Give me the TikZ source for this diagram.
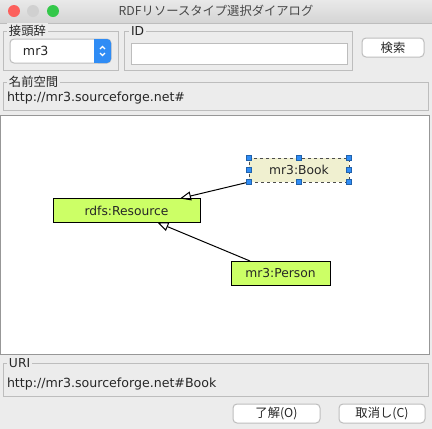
\documentclass[tikz,border=0pt]{standalone}
\usepackage{fontspec}
\setmainfont{DejaVu Sans}
\newfontfamily\jpfont{Noto Sans CJK JP}
\newcommand*{\uifont}{\fontsize{12.3}{14}\selectfont}
\newcommand*{\fieldfont}{\fontsize{12.6}{14}\selectfont}
\definecolor{winbg}{HTML}{ECECEC}
\definecolor{barTop}{HTML}{E9E9E9}
\definecolor{barBot}{HTML}{D4D4D4}
\definecolor{frame}{HTML}{BDBDBD}
\definecolor{ink}{HTML}{262626}
\definecolor{lime}{HTML}{CCFF66}
\definecolor{beige}{HTML}{F0F0D0}
\definecolor{handleblue}{HTML}{2F8CF5}
\definecolor{lightred}{HTML}{FC605C}
\definecolor{lightgrey}{HTML}{D0D0D0}
\definecolor{lightgreen}{HTML}{34C84A}
\usepackage{tikz}
\usetikzlibrary{arrows.meta}
\usetikzlibrary{positioning}
\tikzstyle{base}=[x=1pt, y=-1pt, inner sep=0pt, outer sep=0pt, line width=1pt]
\tikzstyle{grp}=[draw=frame]
\tikzstyle{grptitle}=[fill=winbg, text=ink, inner sep=2pt, anchor=west, font=\uifont\jpfont]
\tikzstyle{button}=[draw=frame, fill=white, rounded corners=4pt]
\tikzstyle{cls}=[draw=black, fill=lime, text=ink, font=\uifont, minimum height=24pt]
\tikzstyle{handle}=[draw=handleblue!70!black, line width=0.4pt, fill=handleblue, minimum size=5pt]
\tikzstyle{subclass}=[draw=black, -{Triangle[open, length=11pt, width=9pt]}]

\begin{document}
\begin{tikzpicture}[base]
    \uifont
        \path [use as bounding box, fill=winbg] (0,0) rectangle (432,429);
        \shade [top color=barTop, bottom color=barBot] (0,0) rectangle (432,23);
        \draw [frame] (0,23) -- (432,23);
        \fill [lightred] (14,11) circle (6);
        \fill [lightgrey] (33,11) circle (6);
        \fill [lightgreen] (53,11) circle (6);
        \node [text=ink!85, font=\uifont\jpfont] (title) at (216,11) {RDFリソースタイプ選択ダイアログ};

        \draw [grp] (3,31) rectangle (118,70);
        \node [grptitle] (prefix) at (7,31) {接頭辞};
        \draw [button] (10,39) rectangle (111,63);
        \fill [handleblue, rounded corners=4pt] (94,39) rectangle (111,63);
        \fill [handleblue] (94,39) rectangle (100,63);
        \draw [white, line width=1.2pt] (100,49) -- (102.5,46.5) -- (105,49);
        \draw [white, line width=1.2pt] (100,53) -- (102.5,55.5) -- (105,53);
        \node [anchor=west, text=ink, font=\fieldfont] (prefixval) at (23,51) {mr3};

        \draw [grp] (124,31) rectangle (352,70);
        \node [grptitle, font=\uifont] (id) at (129,31) {ID};
        \draw [frame, fill=white] (131,43) rectangle (347,64);

        \draw [button] (362,38) rectangle (424,57);
        \node [text=ink, font=\uifont\jpfont] (search) at (393,47.5) {検索};

        \draw [grp] (3,82) rectangle (428,110);
        \node [grptitle] (ns) at (7,82) {名前空間};
        \node [anchor=west, text=ink, font=\fieldfont] (nsval) at (7,98) {http://mr3.sourceforge.net\#};

        \draw [draw=frame!80!black, fill=white] (0.5,115) rectangle (429.5,354);
        \node [cls, minimum width=147pt] (res) at (126.5,210.5) {rdfs:Resource};
        \node [cls, fill=beige, dashed, draw=black!70, minimum width=100pt] (book) at (299,170) {mr3:Book};
        \node [cls, minimum width=99pt] (person) at (280.5,273) {mr3:Person};
        \coordinate (resTop) at ([xshift=-20pt]res.north east);
        \coordinate (resBot) at ([xshift=31pt]res.south);
        \coordinate (personTop) at ([xshift=-30.5pt]person.north);
        \draw [subclass] (book.south west) -- (resTop);
        \draw [subclass] (personTop) -- (resBot);
        \foreach \a in {north west, north, north east, east, south east, south, south west, west}
            \node [handle] at (book.\a) {};

        \draw [grp] (3,363) rectangle (428,396);
        \node [grptitle, font=\uifont] (uri) at (7,363) {URI};
        \node [anchor=west, text=ink, font=\fieldfont] (urival) at (7,384) {http://mr3.sourceforge.net\#Book};

        \draw [button] (233,404) rectangle (320,423);
        \node [text=ink, font=\uifont\jpfont] (ok) at (276.5,413.5) {了解(O)};
        \draw [button] (339,404) rectangle (425,423);
        \node [text=ink, font=\uifont\jpfont] (cancel) at (382,413.5) {取消し(C)};
    \end{tikzpicture}
\end{document}
